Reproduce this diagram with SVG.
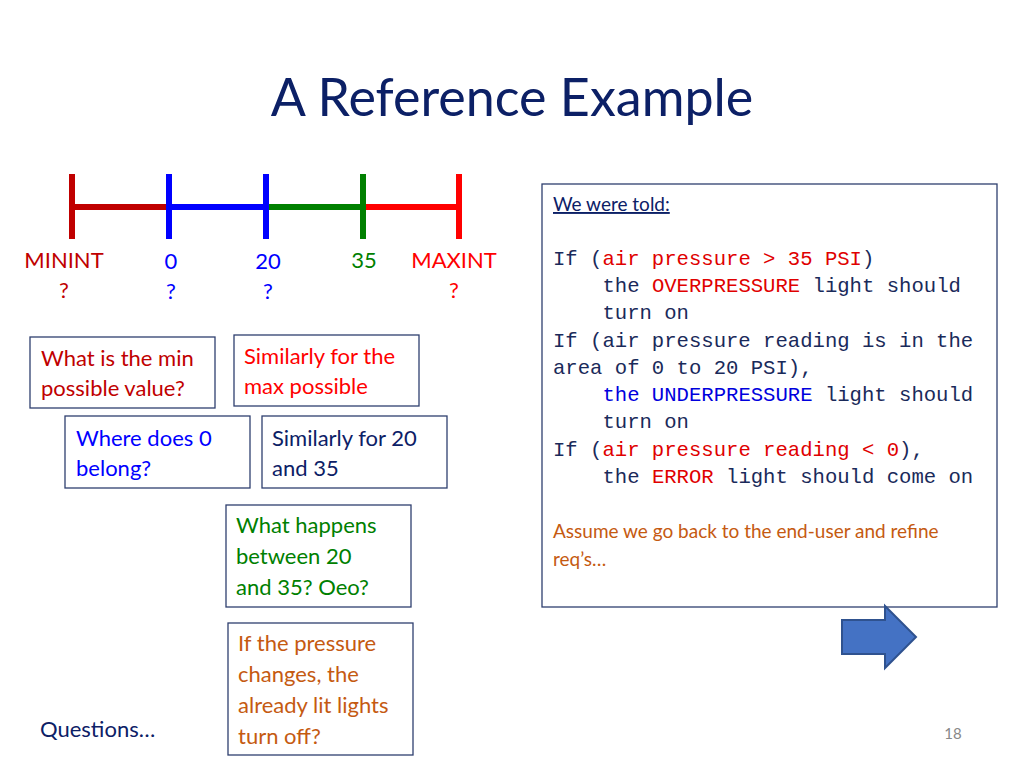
<svg xmlns="http://www.w3.org/2000/svg" width="1024" height="768" viewBox="0 0 1024 768">
<style>
text{font-family:Lato,"Open Sans",sans-serif;font-size:22px}
.m{font-family:"Liberation Mono","DejaVu Sans Mono",monospace;font-size:20.6px;fill:#1a2a5a}
.box{fill:#fff;stroke:#2f3f6f;stroke-width:1.3}
.r{fill:#e00000}.b{fill:#0000dd}
.dr{fill:#c00000}.bl{fill:#0000ff}.g{fill:#008000}.rd{fill:#ff0000}
</style>
<rect width="1024" height="768" fill="#fff"/>
<text x="512" y="116" text-anchor="middle" style="font-size:52px;fill:#0c2066">A Reference Example</text>
<g id="numberline" stroke-width="6">
<line x1="72" y1="207" x2="169" y2="207" stroke="#c00000"/>
<line x1="169" y1="207" x2="266" y2="207" stroke="#0000ff"/>
<line x1="266" y1="207" x2="363" y2="207" stroke="#008000"/>
<line x1="363" y1="207" x2="459" y2="207" stroke="#ff0000"/>
<line x1="72" y1="174" x2="72" y2="239" stroke="#c00000"/>
<line x1="169" y1="174" x2="169" y2="239" stroke="#0000ff"/>
<line x1="266" y1="174" x2="266" y2="239" stroke="#0000ff"/>
<line x1="363" y1="174" x2="363" y2="239" stroke="#008000"/>
<line x1="459" y1="174" x2="459" y2="239" stroke="#ff0000"/>
</g>
<g id="labels">
<text x="64" y="268" text-anchor="middle" class="dr">MININT</text>
<text x="64" y="298" text-anchor="middle" class="dr">?</text>
<text x="171" y="269" text-anchor="middle" class="bl">0</text>
<text x="171" y="299" text-anchor="middle" class="bl">?</text>
<text x="268" y="269" text-anchor="middle" class="bl">20</text>
<text x="268" y="299" text-anchor="middle" class="bl">?</text>
<text x="364" y="268" text-anchor="middle" class="g">35</text>
<text x="454" y="268" text-anchor="middle" class="rd">MAXINT</text>
<text x="454" y="298" text-anchor="middle" class="rd">?</text>
</g>
<g id="q1"><rect class="box" x="30" y="337" width="185" height="71"/><text x="41" y="366" class="dr">What is the min</text><text x="41" y="396" class="dr">possible value?</text></g>
<g id="q2"><rect class="box" x="234" y="335" width="185" height="71"/><text x="244" y="364" class="rd">Similarly for the</text><text x="244" y="394" class="rd">max possible</text></g>
<g id="q3"><rect class="box" x="65" y="416" width="185" height="72"/><text x="76" y="446" class="bl">Where does 0</text><text x="76" y="476" class="bl">belong?</text></g>
<g id="q4"><rect class="box" x="262" y="416" width="185" height="72"/><text x="272" y="446" style="fill:#0c2066">Similarly for 20</text><text x="272" y="476" style="fill:#0c2066">and 35</text></g>
<g id="q5"><rect class="box" x="226" y="505" width="185" height="102"/><text x="236" y="533" class="g">What happens</text><text x="236" y="564" class="g">between 20</text><text x="236" y="595" class="g">and 35? Oeo?</text></g>
<g id="q6"><rect class="box" x="228" y="623" width="185" height="132"/>
<text x="238" y="651" fill="#c55a11">If the pressure</text><text x="238" y="682" fill="#c55a11">changes, the</text><text x="238" y="713" fill="#c55a11">already lit lights</text><text x="238" y="744" fill="#c55a11">turn off?</text></g>
<text x="40" y="737" style="fill:#0c2066">Questions…</text>
<text x="953" y="739" text-anchor="middle" style="font-size:15px;fill:#888">18</text>
<g id="req">
<rect class="box" x="542" y="184" width="455" height="423"/>
<text x="553" y="211" style="font-size:19px;fill:#0c2066;text-decoration:underline">We were told:</text>
<text class="m" x="553" y="265">If (<tspan class="r">air pressure &gt; 35 PSI</tspan>)</text>
<text class="m" x="553" y="292" xml:space="preserve">    the <tspan class="r">OVERPRESSURE</tspan> light should</text>
<text class="m" x="553" y="319" xml:space="preserve">    turn on</text>
<text class="m" x="553" y="347">If (air pressure reading is in the</text>
<text class="m" x="553" y="374">area of 0 to 20 PSI),</text>
<text class="m" x="553" y="401" xml:space="preserve">    <tspan class="b">the UNDERPRESSURE</tspan> light should</text>
<text class="m" x="553" y="428" xml:space="preserve">    turn on</text>
<text class="m" x="553" y="456">If (<tspan class="r">air pressure reading &lt; 0</tspan>),</text>
<text class="m" x="553" y="483" xml:space="preserve">    the <tspan class="r">ERROR</tspan> light should come on</text>
<text x="553" y="538" style="font-size:19px;fill:#c55a11">Assume we go back to the end-user and refine</text>
<text x="553" y="566" style="font-size:19px;fill:#c55a11">req’s…</text>
</g>
<g id="arrow"><polygon points="842,620 885,620 885,606 916,637 885,668 885,654 842,654" fill="#4472c4" stroke="#2f528f" stroke-width="2"/></g>
</svg>
